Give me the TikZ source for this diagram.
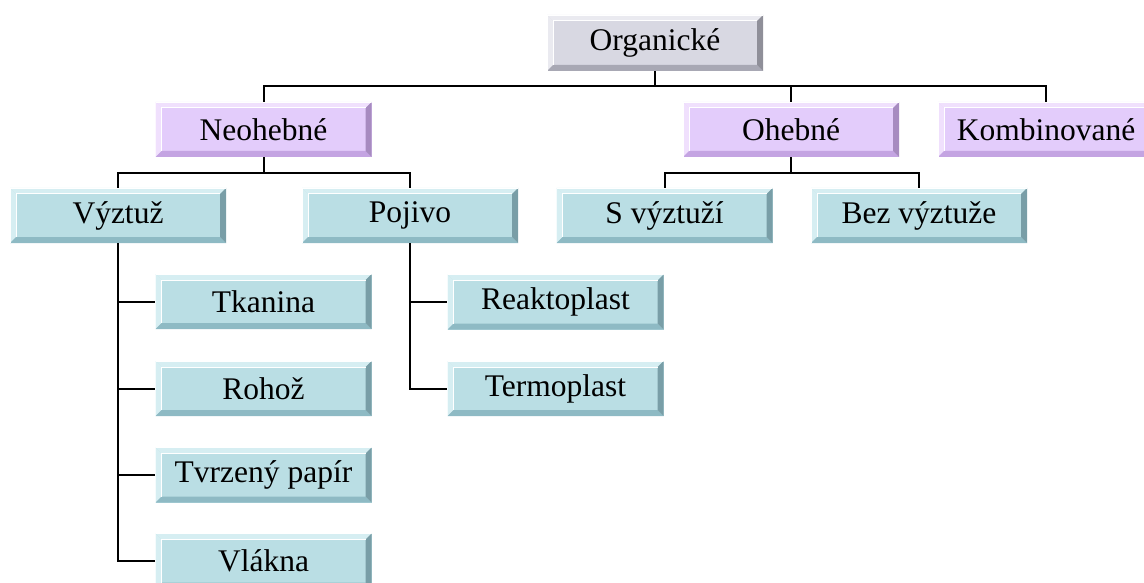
\documentclass[tikz,border=0pt]{standalone}
\usepackage{fontspec}
\setmainfont{Liberation Serif}
\definecolor{tealF}{RGB}{186,222,228}
\definecolor{tealL}{RGB}{214,238,242}
\definecolor{tealD}{RGB}{142,186,196}
\definecolor{purpF}{RGB}{227,204,251}
\definecolor{purpL}{RGB}{240,224,253}
\definecolor{purpD}{RGB}{196,164,226}
\definecolor{grayF}{RGB}{216,216,226}
\definecolor{grayL}{RGB}{234,234,240}
\definecolor{grayD}{RGB}{168,168,180}
\tikzset{
  bx/.style={rectangle, minimum width=216pt, minimum height=55pt, inner sep=0pt,
    fill=#1F, font=\fontsize{31.5}{37}\selectfont,
    path picture={
      \fill[#1L] (path picture bounding box.north west) -- (path picture bounding box.north east)
        -- ([xshift=-6pt,yshift=-6pt]path picture bounding box.north east)
        -- ([xshift=6pt,yshift=-6pt]path picture bounding box.north west) -- cycle;
      \fill[#1L] (path picture bounding box.north west) -- (path picture bounding box.south west)
        -- ([xshift=6pt,yshift=6pt]path picture bounding box.south west)
        -- ([xshift=6pt,yshift=-6pt]path picture bounding box.north west) -- cycle;
      \fill[#1D] (path picture bounding box.south west) -- (path picture bounding box.south east)
        -- ([xshift=-6pt,yshift=6pt]path picture bounding box.south east)
        -- ([xshift=6pt,yshift=6pt]path picture bounding box.south west) -- cycle;
      \fill[#1D!85!black] (path picture bounding box.north east) -- (path picture bounding box.south east)
        -- ([xshift=-6pt,yshift=6pt]path picture bounding box.south east)
        -- ([xshift=-6pt,yshift=-6pt]path picture bounding box.north east) -- cycle;
      \draw[white, line width=1pt] ([xshift=6pt,yshift=6pt]path picture bounding box.south west)
        -- ([xshift=6pt,yshift=-6pt]path picture bounding box.north west)
        -- ([xshift=-6pt,yshift=-6pt]path picture bounding box.north east);
      \draw[white, line width=0.8pt] (path picture bounding box.south west)
        -- (path picture bounding box.north west) -- (path picture bounding box.north east);
    }},
  conn/.style={draw=black, line width=2pt}
}
\begin{document}
\begin{tikzpicture}[x=1pt,y=-1pt]
\useasboundingbox (0,0) rectangle (1144,583);
\clip (0,0) rectangle (1144,583);
% nodes
\node[bx=gray, minimum height=56pt] (org) at (655,43) {Organické};
\node[bx=purp] (neo) at (263.5,129.5) {Neohebné};
\node[bx=purp] (ohe) at (791,129.5) {Ohebné};
\node[bx=purp] (kom) at (1046,129.5) {Kombinované};
\node[bx=teal] (vyz) at (118,215.5) {Výztuž};
\node[bx=teal] (poj) at (410,215.5) {Pojivo};
\node[bx=teal] (svy) at (664.5,215.5) {S výztuží};
\node[bx=teal] (bez) at (919,215.5) {Bez výztuže};
\node[bx=teal] (tka) at (263.5,301.5) {Tkanina};
\node[bx=teal] (roh) at (263.5,388.5) {Rohož};
\node[bx=teal] (tvr) at (263.5,475) {Tvrzený papír};
\node[bx=teal] (vla) at (263.5,561) {Vlákna};
\node[bx=teal] (rea) at (555.5,302) {Reaktoplast};
\node[bx=teal] (ter) at (555.5,388.5) {Termoplast};
% connectors
\draw[conn] (org.south) -- ++(0,15);
\draw[conn] (neo.north) -- ++(0,-16) -| (kom.north);
\draw[conn] (ohe.north) -- ++(0,-16);
\draw[conn] (neo.south) -- ++(0,16);
\draw[conn] (vyz.north) -- ++(0,-15) -| (poj.north);
\draw[conn] (ohe.south) -- ++(0,16);
\draw[conn] (svy.north) -- ++(0,-15) -| (bez.north);
\draw[conn] (vyz.south) |- (vla.west);
\draw[conn] (vyz.south |- tka.west) -- (tka.west);
\draw[conn] (vyz.south |- roh.west) -- (roh.west);
\draw[conn] (vyz.south |- tvr.west) -- (tvr.west);
\draw[conn] (poj.south) |- (ter.west);
\draw[conn] (poj.south |- rea.west) -- (rea.west);
\end{tikzpicture}
\end{document}
